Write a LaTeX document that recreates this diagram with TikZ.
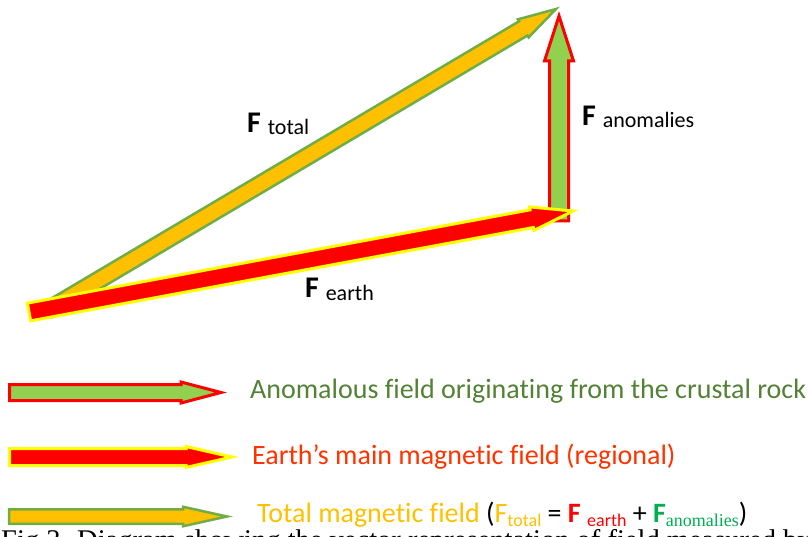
\documentclass[tikz,border=0pt]{standalone}
\usepackage{fontspec}
\setmainfont[Ligatures=NoCommon]{Carlito}
\newfontfamily\capfont{Liberation Serif}
\usetikzlibrary{calc}
\definecolor{totalfill}{HTML}{FFC000}
\definecolor{totalline}{HTML}{70AD47}
\definecolor{anomfill}{HTML}{92D050}
\definecolor{earthfill}{HTML}{FF0000}
\definecolor{earthline}{HTML}{FFFF00}
\definecolor{anomtext}{HTML}{538135}
\definecolor{earthtext}{HTML}{FF3300}
\definecolor{anomF}{HTML}{00B050}

\tikzset{
  totalvec/.style={fill=totalfill, draw=totalline, line width=2.5pt},
  earthvec/.style={fill=earthfill, draw=earthline, line width=3pt},
  anomvec/.style={fill=anomfill, draw=earthfill, line width=3pt},
  veclabel/.style={anchor=base west, inner sep=0pt, font=\fontsize{30}{32}\selectfont\bfseries},
  legendtext/.style={anchor=west, inner sep=0pt, font=\fontsize{28}{30}\selectfont},
}

% block arrow from #2 to #3: shaft #4, head width #5, head length #6
\newcommand{\fieldarrow}[6]{%
  \path let \p1=($(#3)-(#2)$) in \pgfextra{%
    \pgfmathsetmacro\fang{atan2(\y1,\x1)}%
    \pgfmathsetmacro\flen{veclen(\x1,\y1)}%
    \global\let\fang\fang \global\let\flen\flen};
  \begin{scope}[shift={(#2)}, rotate=\fang, x=1pt, y=1pt]
    \draw[#1] (0,-#4/2) -- ({\flen-#6},-#4/2) -- ({\flen-#6},-#5/2)
      -- (\flen,0) -- ({\flen-#6},#5/2) -- ({\flen-#6},#4/2) -- (0,#4/2) -- cycle;
  \end{scope}}
\newcommand{\sublab}[1]{\raisebox{-2pt}{\mdseries\fontsize{22}{24}\selectfont #1}}
\newcommand{\smallsub}[1]{\raisebox{-4pt}{\fontsize{18}{20}\selectfont #1}}

\begin{document}
\begin{tikzpicture}[x=1pt, y=-1pt]
  \useasboundingbox (0,0) rectangle (808,537);

  % vector triangle
  \coordinate (anombase) at (559,221);
  \coordinate (anomtip) at (559,16);
  \coordinate (totaltail) at (48,310);
  \coordinate (totaltip) at (556,9);
  \coordinate (earthtail) at (29,312);
  \coordinate (earthtip) at (573,211);

  \fieldarrow{anomvec}{anombase}{anomtip}{19}{29}{45}
  \fieldarrow{totalvec}{totaltail}{totaltip}{16.5}{21}{38}
  \fieldarrow{earthvec}{earthtail}{earthtip}{18}{24}{42}

  \node[veclabel] (Ftotal) at (247,133) {F \sublab{total}};
  \node[veclabel] (Fanom) at (582,126) {F \sublab{anomalies}};
  \node[veclabel] (Fearth) at (305,298) {F \sublab{earth}};

  % legend
  \coordinate (anomkey) at (9.5,392.5);
  \coordinate (anomkeyend) at (221,392.5);
  \coordinate (earthkey) at (9.5,457);
  \coordinate (earthkeyend) at (232,457);
  \coordinate (totalkey) at (9,516.5);
  \coordinate (totalkeyend) at (227,516.5);

  \fieldarrow{anomvec}{anomkey}{anomkeyend}{16}{21}{40}
  \fieldarrow{earthvec}{earthkey}{earthkeyend}{17}{21}{46}
  \fieldarrow{totalvec}{totalkey}{totalkeyend}{14.5}{19.5}{44}

  \node[legendtext, text=anomtext] (anomtxt) at (250,391)
    {Anomalous field originating from the crustal rock};
  \node[legendtext, text=earthtext] (earthtxt) at (252,457)
    {Earth’s main magnetic field (regional)};
  \node[legendtext] (totaltxt) at (257,515)
    {\textcolor{totalfill}{Total magnetic field} (\textcolor{totalfill}{F\smallsub{total}}
     = \textcolor{earthfill}{\textbf{F} \smallsub{earth}}
     + \textcolor{anomF}{\textbf{F}\smallsub{\capfont anomalies}})};

  % caption, cut by the page edge
  \node[anchor=base west, inner sep=0pt, font=\capfont\fontsize{28.5}{30}\selectfont] (caption)
    at (1,549) {Fig.3. Diagram showing the vector representation of field measured by};
\end{tikzpicture}
\end{document}
